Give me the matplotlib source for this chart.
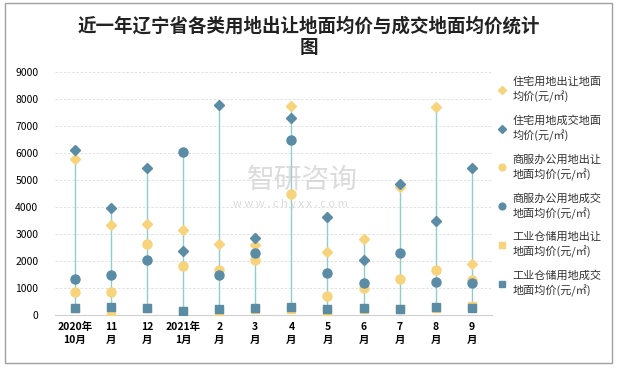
import matplotlib.pyplot as plt
from matplotlib.lines import Line2D
from matplotlib.patches import Rectangle
import numpy as np

plt.rcParams['font.family'] = ['Noto Sans CJK SC', 'DejaVu Sans']

months = ["2020年\n10月", "11\n月", "12\n月", "2021年\n1月", "2\n月", "3\n月",
          "4\n月", "5\n月", "6\n月", "7\n月", "8\n月", "9\n月"]

res_sell = [5780, 3340, 3370, 3150, 2640, 2600, 7760, 2340, 2820, 4750, 7690, 1900]
res_deal = [6110, 3980, 5460, 2370, 7790, 2870, 7300, 3650, 2040, 4870, 3490, 5460]
com_sell = [840, 840, 2620, 1800, 1660, 2030, 4480, 720, 1010, 1320, 1660, 1290]
com_deal = [1320, 1470, 2030, 6030, 1470, 2290, 6480, 1550, 1170, 2290, 1210, 1170]
ind_sell = [250, 160, 250, 150, 110, 210, 210, 160, 210, 220, 260, 320]
ind_deal = [270, 310, 270, 160, 230, 260, 300, 230, 270, 230, 300, 270]

labels = ["住宅用地出让地面\n均价(元/㎡)", "住宅用地成交地面\n均价(元/㎡)",
          "商服办公用地出让\n地面均价(元/㎡)", "商服办公用地成交\n地面均价(元/㎡)",
          "工业仓储用地出让\n地面均价(元/㎡)", "工业仓储用地成交\n地面均价(元/㎡)"]

yellow = "#F7D47C"
blue = "#5A8CA5"
series = [(res_sell, "D", yellow, 5), (res_deal, "D", blue, 5),
          (com_sell, "o", yellow, 6.5), (com_deal, "o", blue, 6.5),
          (ind_sell, "s", yellow, 5.8), (ind_deal, "s", blue, 5.8)]

fig = plt.figure(figsize=(6.17, 3.68), dpi=100)
ax = fig.add_axes([0.089, 0.144, 0.708, 0.66])
x = np.arange(len(months))

allv = np.array([s[0] for s in series])
ax.vlines(x, allv.min(axis=0), allv.max(axis=0), color="#8ECFCB", lw=1, zorder=1)

handles = []
for vals, m, c, ms in series:
    ax.plot(x, vals, linestyle="none", marker=m, color=c, markersize=ms, zorder=3)
    handles.append(Line2D([], [], linestyle="none", marker=m, color=c,
                          markersize=ms * 0.75))

ax.set_xlim(-0.55, 11.55)
ax.set_ylim(0, 9000)
ax.set_yticks(range(0, 9001, 1000))
ax.set_xticks(x)
ax.set_xticklabels(months, fontsize=7.5, fontweight="bold", linespacing=1.4)
ax.tick_params(axis="y", labelsize=7.5, length=0, pad=12)
ax.tick_params(axis="x", length=0, pad=5)
ax.grid(axis="y", color="#DDDDDD", linestyle=(0, (3, 2)), lw=0.6)
ax.set_axisbelow(True)
for s in ["top", "right", "left"]:
    ax.spines[s].set_visible(False)
ax.spines["bottom"].set_color("#D0D0D0")

leg = fig.legend(handles, labels, loc="upper left", bbox_to_anchor=(0.8, 0.805),
                 frameon=False, fontsize=8, handlelength=0.8, handletextpad=0.5,
                 labelspacing=1.05, borderaxespad=0)
for t in leg.get_texts():
    t.set_linespacing(1.45)
    t.set_color("#333333")

fig.text(0.5, 0.9, "近一年辽宁省各类用地出让地面均价与成交地面均价统计\n图",
         ha="center", va="center", fontsize=13.3, fontweight="bold",
         linespacing=1.15, color="#222222")

fig.text(0.49, 0.51, "智研咨询", ha="center", va="center", fontsize=20,
         color="#C4C4C4", alpha=0.6)
fig.text(0.47, 0.445, "w w w . c h y x x . c o m", ha="center", va="center",
         fontsize=8, color="#C4C4C4", alpha=0.6)

fig.add_artist(Rectangle((0.008, 0.013), 0.984, 0.98, transform=fig.transFigure,
                         fill=False, edgecolor="#A0A0A0", lw=1))

fig.savefig("out.png", dpi=100)
